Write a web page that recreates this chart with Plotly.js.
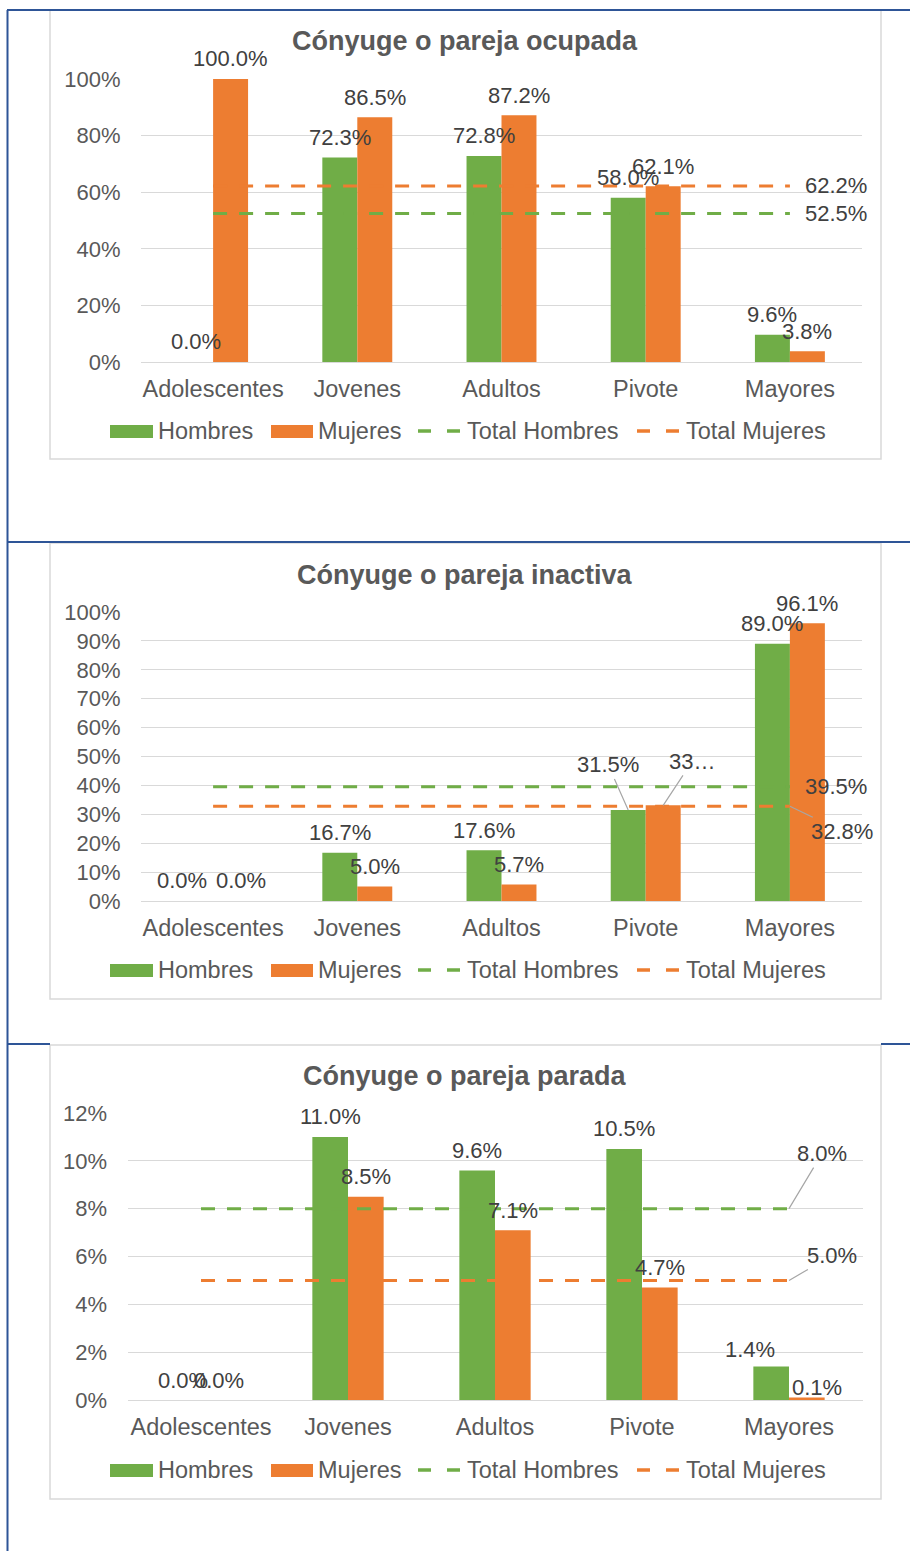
<!DOCTYPE html>
<html>
<head>
<meta charset="utf-8">
<script src="https://cdn.plot.ly/plotly-3.0.1.min.js"></script>
<style>
html,body{margin:0;padding:0;background:#fff;}
#chart{width:910px;height:1551px;}
</style>
</head>
<body>
<div id="chart"></div>
<script>
// ---------- DATA ----------
const categories = ['Adolescentes', 'Jovenes', 'Adultos', 'Pivote', 'Mayores'];
const seriesNames = ['Hombres', 'Mujeres', 'Total Hombres', 'Total Mujeres'];
const titles = ['Cónyuge o pareja ocupada', 'Cónyuge o pareja inactiva', 'Cónyuge o pareja parada'];

const ocupadaHombres = [0.0, 72.3, 72.8, 58.0, 9.6];
const ocupadaMujeres = [100.0, 86.5, 87.2, 62.1, 3.8];
const ocupadaTotalHombres = 52.5;
const ocupadaTotalMujeres = 62.2;

const inactivaHombres = [0.0, 16.7, 17.6, 31.5, 89.0];
const inactivaMujeres = [0.0, 5.0, 5.7, 33.1, 96.1];
const inactivaTotalHombres = 39.5;
const inactivaTotalMujeres = 32.8;

const paradaHombres = [0.0, 11.0, 9.6, 10.5, 1.4];
const paradaMujeres = [0.0, 8.5, 7.1, 4.7, 0.1];
const paradaTotalHombres = 8.0;
const paradaTotalMujeres = 5.0;

const yMax = [100, 100, 12];
const yStep = [20, 10, 2];

// ---------- STYLE ----------
const W = 910, H = 1551;
const GREEN = '#70AD47', ORANGE = '#ED7D31';
const GRID = '#D9D9D9', AXTXT = '#595959', LBLTXT = '#404040', BLUE = '#2E5597';
const FONT = '"Liberation Sans", Arial, sans-serif';
const px = x => x / W;
const py = y => 1 - y / H;
const fmt = v => v.toFixed(1) + '%';
const DASH = '14px,12px';

// panel geometry (pixels)
const panels = [
  {box: [50, 10, 881, 459], plot: [141, 79, 862, 362], title: 41, legend: 431, half: 17.5},
  {box: [50, 543, 881, 999], plot: [141, 612, 862, 901], title: 575, legend: 970, half: 17.5},
  {box: [50, 1045, 881, 1499], plot: [127.5, 1113, 862.5, 1400], title: 1076, legend: 1470, half: 17.8}
];

const data = [
  {h: ocupadaHombres, m: ocupadaMujeres, th: ocupadaTotalHombres, tm: ocupadaTotalMujeres},
  {h: inactivaHombres, m: inactivaMujeres, th: inactivaTotalHombres, tm: inactivaTotalMujeres},
  {h: paradaHombres, m: paradaMujeres, th: paradaTotalHombres, tm: paradaTotalMujeres}
];

// label placement tweaks (pixel offsets) keyed "panel-series-index"; null = drawn with leader line
const labelTweaks = {
  '1-0-0': {dx: -14}, '1-1-0': {dx: 10},
  '1-0-3': null, '1-1-3': null,
  '2-0-4': {dx: -21, dy: -3}, '2-1-4': {dx: 10, dy: -10}
};

const traces = [];
const layout = {
  width: W, height: H,
  margin: {l: 0, r: 0, t: 0, b: 0},
  paper_bgcolor: '#ffffff',
  plot_bgcolor: 'rgba(0,0,0,0)',
  font: {family: FONT, color: AXTXT, size: 22},
  barmode: 'group',
  bargap: 0.515,
  bargroupgap: 0,
  showlegend: false,
  shapes: [],
  annotations: []
};

const ann = (xref, yref, x, y, text, opts) => Object.assign({
  xref: xref, yref: yref, x: x, y: y, text: text, showarrow: false,
  font: {family: FONT, size: 22, color: LBLTXT}
}, opts || {});
const lead = {showarrow: true, arrowhead: 0, arrowwidth: 1.2, arrowcolor: '#A6A6A6', standoff: 0, startstandoff: 0};

// legend item geometry (pixels): [symbol x0, symbol x1, text x]
const legendItems = [[110, 153, 156], [271, 313, 316], [418, 460, 465], [637, 680, 684]];
const legendColors = [GREEN, ORANGE, GREEN, ORANGE];

panels.forEach((p, i) => {
  const n = i === 0 ? '' : String(i + 1);
  const xa = 'x' + n, ya = 'y' + n;
  const d = data[i];

  traces.push({
    type: 'bar', name: seriesNames[0], x: categories, y: d.h,
    xaxis: xa, yaxis: ya, marker: {color: GREEN}, hoverinfo: 'skip'
  });
  traces.push({
    type: 'bar', name: seriesNames[1], x: categories, y: d.m,
    xaxis: xa, yaxis: ya, marker: {color: ORANGE}, hoverinfo: 'skip'
  });
  traces.push({
    type: 'scatter', mode: 'lines', name: seriesNames[2], x: categories,
    y: categories.map(() => d.th),
    xaxis: xa, yaxis: ya,
    line: {color: GREEN, width: 3, dash: DASH},
    hoverinfo: 'skip', cliponaxis: false
  });
  traces.push({
    type: 'scatter', mode: 'lines', name: seriesNames[3], x: categories,
    y: categories.map(() => d.tm),
    xaxis: xa, yaxis: ya,
    line: {color: ORANGE, width: 3, dash: DASH},
    hoverinfo: 'skip', cliponaxis: false
  });

  // data labels above bars
  [d.h, d.m].forEach((vals, s) => {
    vals.forEach((v, k) => {
      const key = i + '-' + s + '-' + k;
      const tw = labelTweaks.hasOwnProperty(key) ? labelTweaks[key] : {};
      if (tw === null) return;
      layout.annotations.push(ann(xa, ya, categories[k], v, fmt(v), {
        xshift: (s === 0 ? -p.half : p.half) + (tw.dx || 0),
        yshift: 20 + (tw.dy || 0),
        yanchor: 'middle'
      }));
    });
  });

  layout['xaxis' + n] = {
    domain: [px(p.plot[0]), px(p.plot[2])],
    anchor: ya,
    type: 'category',
    range: [-0.5, categories.length - 0.5],
    showgrid: false, zeroline: false,
    showline: true, linecolor: GRID, linewidth: 1,
    ticks: 'outside', ticklen: 6, tickcolor: 'rgba(0,0,0,0)',
    tickfont: {family: FONT, size: 23.5, color: AXTXT},
    fixedrange: true
  };
  layout['yaxis' + n] = {
    domain: [py(p.plot[3]), py(p.plot[1])],
    anchor: xa,
    range: [0, yMax[i]],
    dtick: yStep[i], tick0: 0,
    ticksuffix: '%',
    showgrid: true, gridcolor: GRID, gridwidth: 1,
    zeroline: false, showline: false,
    ticks: 'outside', ticklen: 15, tickcolor: 'rgba(0,0,0,0)',
    tickfont: {family: FONT, size: 22, color: AXTXT},
    fixedrange: true
  };

  // panel border
  layout.shapes.push({
    type: 'rect', xref: 'paper', yref: 'paper', layer: 'below',
    x0: px(p.box[0]), x1: px(p.box[2]), y0: py(p.box[1]), y1: py(p.box[3]),
    line: {color: GRID, width: 1.5}, fillcolor: 'rgba(255,255,255,0)'
  });

  // title
  layout.annotations.push({
    xref: 'paper', yref: 'paper', x: px(465.5), y: py(p.title),
    xanchor: 'center', yanchor: 'middle', showarrow: false,
    text: '<b>' + titles[i] + '</b>',
    font: {family: FONT, size: 27, color: AXTXT}
  });

  // legend (drawn as symbols + text)
  legendItems.forEach((it, k) => {
    if (k < 2) {
      layout.shapes.push({
        type: 'rect', xref: 'paper', yref: 'paper', layer: 'above',
        x0: px(it[0]), x1: px(it[1]), y0: py(p.legend - 6), y1: py(p.legend + 7),
        line: {width: 0}, fillcolor: legendColors[k]
      });
    } else {
      layout.shapes.push({
        type: 'line', xref: 'paper', yref: 'paper', layer: 'above',
        x0: px(it[0]), x1: px(it[1]), y0: py(p.legend), y1: py(p.legend),
        line: {color: legendColors[k], width: 3.5, dash: '13px,16px'}
      });
    }
    layout.annotations.push({
      xref: 'paper', yref: 'paper', x: px(it[2]), y: py(p.legend),
      xanchor: 'left', yanchor: 'middle', showarrow: false,
      text: seriesNames[k],
      font: {family: FONT, size: 23.5, color: AXTXT}
    });
  });
});

// panel 1 total labels
layout.annotations.push(ann('x', 'y', 'Mayores', ocupadaTotalMujeres, fmt(ocupadaTotalMujeres), {xanchor: 'left', xshift: 13}));
layout.annotations.push(ann('x', 'y', 'Mayores', ocupadaTotalHombres, fmt(ocupadaTotalHombres), {xanchor: 'left', xshift: 13}));
// panel 2
layout.annotations.push(ann('x2', 'y2', 'Mayores', inactivaTotalHombres, fmt(inactivaTotalHombres), {xanchor: 'left', xshift: 13}));
layout.annotations.push(ann('x2', 'y2', 'Mayores', inactivaTotalMujeres, fmt(inactivaTotalMujeres), Object.assign({}, lead, {ax: 52, ay: 25})));
layout.annotations.push(ann('x2', 'y2', 'Pivote', inactivaHombres[3], fmt(inactivaHombres[3]), Object.assign({}, lead, {xshift: -17.5, ax: -20, ay: -45})));
layout.annotations.push(ann('x2', 'y2', 'Pivote', inactivaMujeres[3], '33…', Object.assign({}, lead, {xshift: 17.5, ax: 29, ay: -44})));
// panel 3
layout.annotations.push(ann('x3', 'y3', 'Mayores', paradaTotalHombres, fmt(paradaTotalHombres), Object.assign({}, lead, {ax: 33, ay: -55})));
layout.annotations.push(ann('x3', 'y3', 'Mayores', paradaTotalMujeres, fmt(paradaTotalMujeres), Object.assign({}, lead, {ax: 43, ay: -25})));

// blue frame lines
const blue = (x0, y0, x1, y1) => ({
  type: 'line', xref: 'paper', yref: 'paper', layer: 'above',
  x0: px(x0), y0: py(y0), x1: px(x1), y1: py(y1),
  line: {color: BLUE, width: 2}
});
layout.shapes.push(blue(7.5, 10, 7.5, 1551));
layout.shapes.push(blue(7, 10, 910, 10));
layout.shapes.push(blue(7, 542, 910, 542));
layout.shapes.push(blue(7, 1044, 50, 1044));
layout.shapes.push(blue(881, 1044, 910, 1044));

Plotly.newPlot('chart', traces, layout, {staticPlot: true, displayModeBar: false});
</script>
</body>
</html>
